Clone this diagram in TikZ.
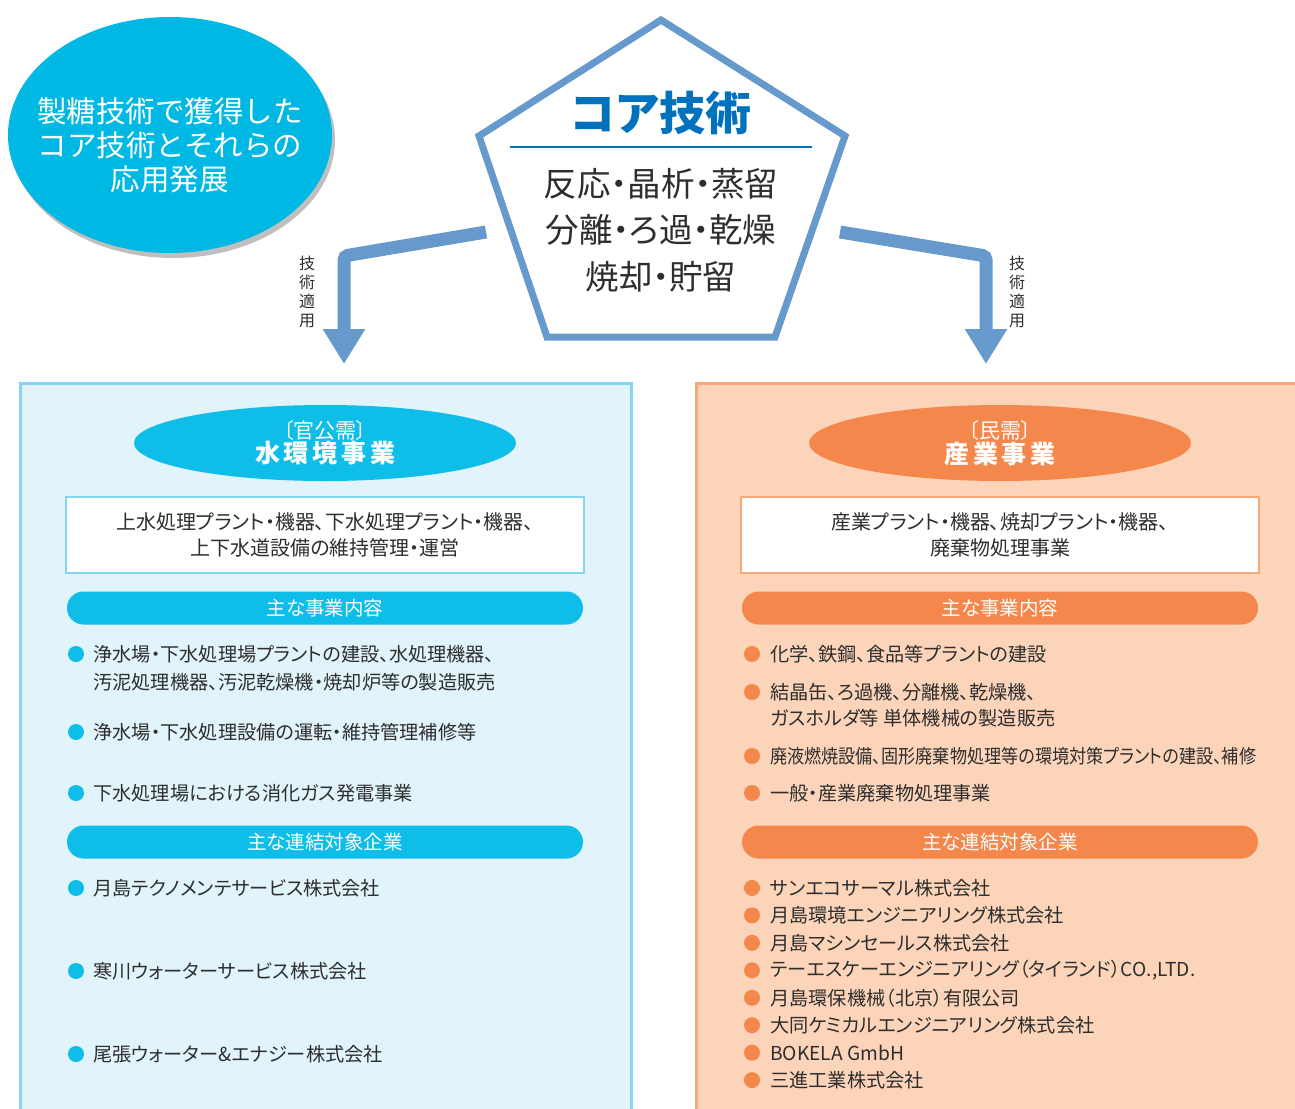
\documentclass[tikz,border=0pt]{standalone}
\usepackage{graphicx}
\usepackage{fontspec}
\setmainfont{Noto Sans CJK JP}[RawFeature=+palt]
\newfontfamily\spaced{Noto Sans CJK JP}[RawFeature=+palt,LetterSpace=15]
\newfontfamily\wide{Noto Sans CJK JP}
\usetikzlibrary{shapes.geometric,arrows.meta,shadows}
\definecolor{ink}{HTML}{2E2E2E}
\definecolor{sky}{HTML}{00B8E4}
\definecolor{aqua}{HTML}{0EBEE9}
\definecolor{aquapale}{HTML}{E1F3FB}
\definecolor{aquaedge}{HTML}{85D4F1}
\definecolor{tang}{HTML}{F4874B}
\definecolor{tangpale}{HTML}{FCD4B9}
\definecolor{tangedge}{HTML}{F8A77C}
\definecolor{steel}{HTML}{6699CC}
\definecolor{core}{HTML}{0071BC}
\def\fsz#1#2{\fontsize{#1}{#2}\selectfont}
\tikzset{
  item/.style={anchor=west,inner sep=0pt,text=ink,font=\fsz{19.2}{28},align=left},
  dot/.style={circle,inner sep=0pt,minimum size=16pt},
  pill/.style={rounded corners=16.5pt,minimum width=516pt,minimum height=33pt,inner sep=0pt,text=white,font=\fsz{19.5}{20}},
  summary/.style={draw,fill=white,line width=1.2pt,minimum width=518pt,minimum height=76pt,align=center,text=ink,font=\fsz{20}{26}},
  badge/.style={ellipse,minimum width=382pt,minimum height=76pt,inner sep=0pt},
  tag/.style={align=center,inner sep=0pt,text=white},
  flow/.style={steel,line width=13pt,rounded corners=4pt,-{Triangle[length=35pt,width=40pt]}},
  vlabel/.style={align=center,inner sep=0pt,text=ink,font=\fsz{16}{19}}
}
\begin{document}
\begin{tikzpicture}[x=1pt,y=-1pt]
\useasboundingbox (0,0) rectangle (1295,1108);
\clip (0,0) rectangle (1295,1108);

\node[ellipse,fill=sky,minimum width=324pt,minimum height=236pt,inner sep=0pt,
  drop shadow={shadow xshift=3pt,shadow yshift=-5pt,opacity=0.25,fill=black}] (lead) at (170,135) {};
\node[tag,font=\wide\fsz{29.5}{34}] (leadtext) at (170,145) {製糖技術で獲得した\\コア技術とそれらの\\応用発展};

\draw[steel,line width=7pt,line join=miter] (661,20) -- (845,136) -- (775,337) -- (547,337) -- (479,136) -- cycle;
\node[text=core,font=\bfseries\fsz{46}{48}] (coretitle) at (661,113) {コア技術};
\draw[core,line width=2.5pt] (510,147) -- (812,147);
\node[align=center,text=ink,font=\fsz{33.5}{46.5}] (corelist) at (661,230) {反応・晶析・蒸留\\分離・ろ過・乾燥\\焼却・貯留};

\coordinate (pl) at (486,232); \coordinate (kl) at (344,256); \coordinate (tl) at (344,364);
\coordinate (pr) at (840,232); \coordinate (kr) at (986,256); \coordinate (tr) at (986,364);
\draw[flow] (pl) -- (kl) -- (tl);
\draw[flow] (pr) -- (kr) -- (tr);
\node[vlabel] (usel) at (307,292) {技\\術\\適\\用};
\node[vlabel] (user) at (1017,292) {技\\術\\適\\用};

\draw[aquaedge,fill=aquapale,line width=3pt] (20,383) rectangle (631,1130);
\draw[tangedge,fill=tangpale,line width=3pt] (696,383) rectangle (1310,1130);

\node[badge,fill=aqua] (public) at (325,443) {};
\node[tag] (publictext) at (public) {\fsz{21}{26}〔官公需〕\\\spaced\bfseries\fsz{25}{26}水環境事業};
\node[badge,fill=tang] (private) at (1000,443) {};
\node[tag] (privatetext) at (private) {\fsz{21}{26}〔民需〕\\\spaced\bfseries\fsz{25}{26}産業事業};

\node[summary,draw=aquaedge] (wsum) at (325,535) {上水処理プラント・機器、下水処理プラント・機器、\\上下水道設備の維持管理・運営};
\node[summary,draw=tangedge] (isum) at (1000,535) {産業プラント・機器、焼却プラント・機器、\\廃棄物処理事業};

\node[pill,fill=aqua] (wbiz) at (325,608) {主な事業内容};
\node[pill,fill=tang] (ibiz) at (1000,608) {主な事業内容};
\node[pill,fill=aqua] (wgrp) at (325,842) {主な連結対象企業};
\node[pill,fill=tang] (igrp) at (1000,842) {主な連結対象企業};

\node[dot,fill=aqua] (wd1) at (76,654) {};
\node[item] (wi1) at (93,668) {浄水場・下水処理場プラントの建設、水処理機器、\\汚泥処理機器、汚泥乾燥機・焼却炉等の製造販売};
\node[dot,fill=aqua] (wd2) at (76,732) {};
\node[item] (wi2) at (93,732) {浄水場・下水処理設備の運転・維持管理補修等};
\node[dot,fill=aqua] (wd3) at (76,793) {};
\node[item] (wi3) at (93,793) {下水処理場における消化ガス発電事業};

\foreach \t [count=\i] in {月島テクノメンテサービス株式会社,寒川ウォーターサービス株式会社,尾張ウォーター\&エナジー株式会社}{
  \node[dot,fill=aqua] (wcd\i) at (76,805+83*\i) {};
  \node[item] (wc\i) at (93,805+83*\i) {\t};
}

\node[dot,fill=tang] (id1) at (752,654) {};
\node[item] (ii1) at (770,654) {化学、鉄鋼、食品等プラントの建設};
\node[dot,fill=tang] (id2) at (752,692) {};
\node[item,font=\fsz{19.2}{26}] (ii2) at (770,705) {結晶缶、ろ過機、分離機、乾燥機、\\ガスホルダ等 単体機械の製造販売};
\node[dot,fill=tang] (id3) at (752,756) {};
\node[item] (ii3) at (770,756) {\resizebox{486pt}{\height}{廃液燃焼設備、固形廃棄物処理等の環境対策プラントの建設、補修}};
\node[dot,fill=tang] (id4) at (752,793) {};
\node[item] (ii4) at (770,793) {一般・産業廃棄物処理事業};

\foreach \t [count=\i] in {サンエコサーマル株式会社,月島環境エンジニアリング株式会社,月島マシンセールス株式会社,
  {テーエスケーエンジニアリング（タイランド）CO.,LTD.},月島環保機械（北京）有限公司,大同ケミカルエンジニアリング株式会社,
  {\wide BOKELA GmbH},三進工業株式会社}{
  \node[dot,fill=tang] (icd\i) at (752,860.5+27.45*\i) {};
  \node[item] (ic\i) at (770,860.5+27.45*\i) {\t};
}
\end{tikzpicture}
\end{document}
